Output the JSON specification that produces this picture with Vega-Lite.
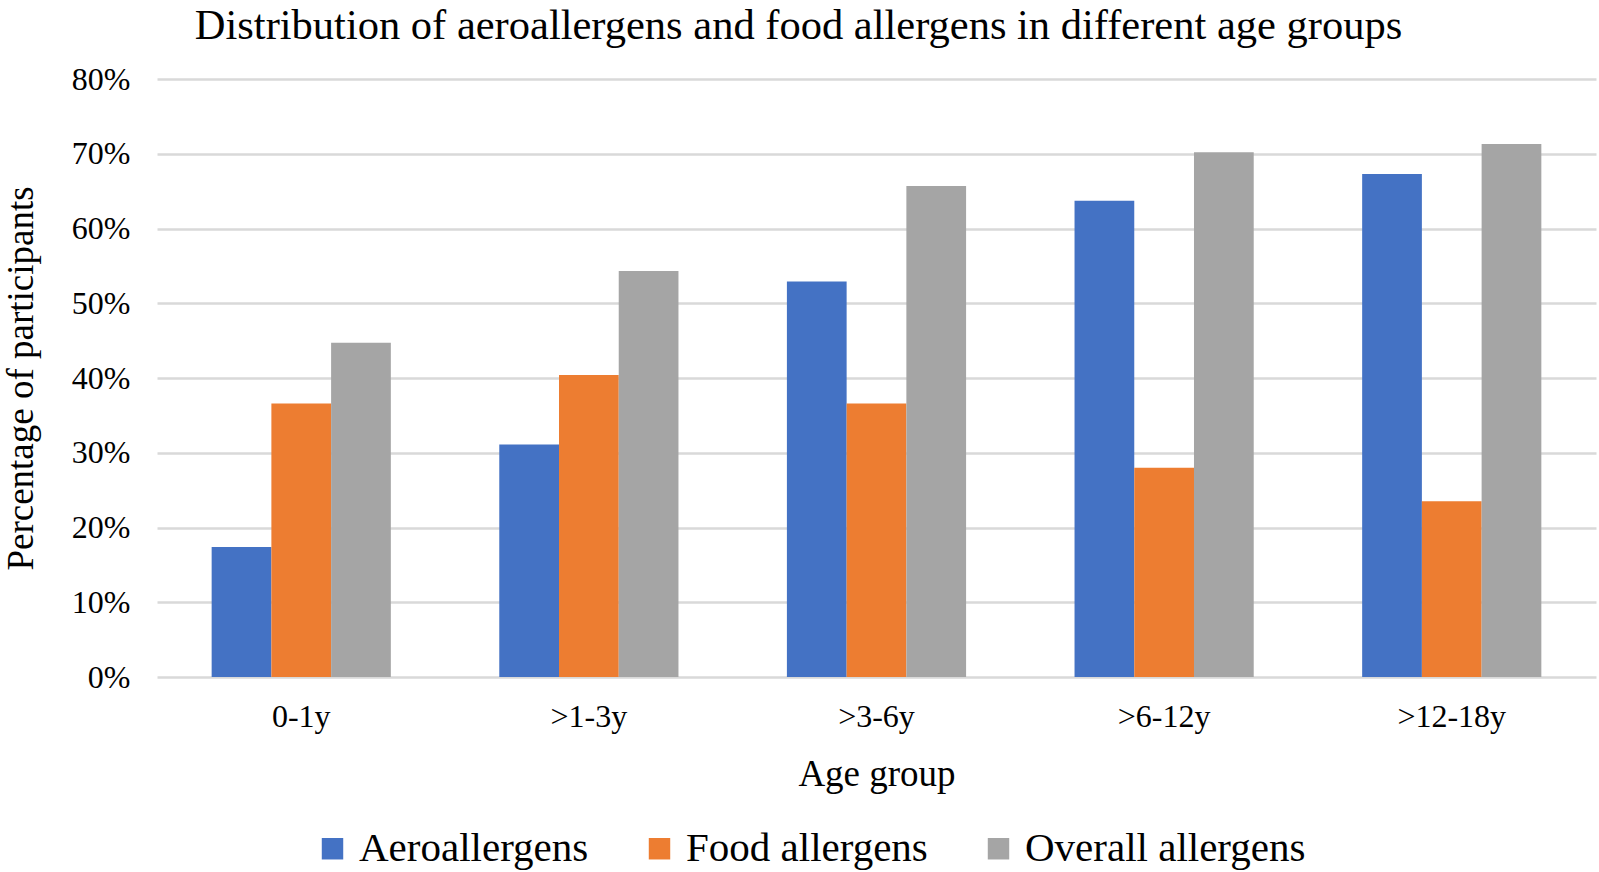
{
  "$schema": "https://vega.github.io/schema/vega-lite/v6.json",
  "width": 1439,
  "height": 598,
  "autosize": {"type": "none"},
  "padding": {"left": 157, "top": 79, "right": 3, "bottom": 195},
  "background": "white",
  "config": {
    "font": "Liberation Serif",
    "view": {"stroke": null}
  },
  "title": {
    "text": "Distribution of aeroallergens and food allergens in different age groups",
    "font": "Liberation Serif",
    "fontSize": 42.5,
    "fontWeight": "normal",
    "color": "#000000",
    "anchor": "middle",
    "frame": "group",
    "dx": -78,
    "offset": 16
  },
  "data": {
    "values": [
      {"age": "0-1y", "type": "Aeroallergens", "pct": 17.4},
      {"age": "0-1y", "type": "Food allergens", "pct": 36.6},
      {"age": "0-1y", "type": "Overall allergens", "pct": 44.7},
      {"age": ">1-3y", "type": "Aeroallergens", "pct": 31.1},
      {"age": ">1-3y", "type": "Food allergens", "pct": 40.4},
      {"age": ">1-3y", "type": "Overall allergens", "pct": 54.3},
      {"age": ">3-6y", "type": "Aeroallergens", "pct": 52.9},
      {"age": ">3-6y", "type": "Food allergens", "pct": 36.6},
      {"age": ">3-6y", "type": "Overall allergens", "pct": 65.7},
      {"age": ">6-12y", "type": "Aeroallergens", "pct": 63.7},
      {"age": ">6-12y", "type": "Food allergens", "pct": 28.0},
      {"age": ">6-12y", "type": "Overall allergens", "pct": 70.2},
      {"age": ">12-18y", "type": "Aeroallergens", "pct": 67.3},
      {"age": ">12-18y", "type": "Food allergens", "pct": 23.5},
      {"age": ">12-18y", "type": "Overall allergens", "pct": 71.3}
    ]
  },
  "mark": {"type": "bar"},
  "encoding": {
    "x": {
      "field": "age",
      "type": "nominal",
      "sort": null,
      "scale": {"paddingInner": 0.377, "paddingOuter": 0.19},
      "axis": {
        "title": "Age group",
        "titleFont": "Liberation Serif",
        "titleFontSize": 37,
        "titleFontWeight": "normal",
        "titleColor": "#000000",
        "titlePadding": 24,
        "labelFont": "Liberation Serif",
        "labelFontSize": 32,
        "labelColor": "#000000",
        "labelAngle": 0,
        "labelPadding": 24,
        "ticks": false,
        "domain": false,
        "grid": false
      }
    },
    "xOffset": {
      "field": "type",
      "type": "nominal",
      "scale": {"paddingInner": 0, "paddingOuter": 0}
    },
    "y": {
      "field": "pct",
      "type": "quantitative",
      "scale": {"domain": [0, 80], "nice": false},
      "axis": {
        "title": "Percentage of participants",
        "titleFont": "Liberation Serif",
        "titleFontSize": 37,
        "titleFontWeight": "normal",
        "titleColor": "#000000",
        "titlePadding": 31,
        "labelFont": "Liberation Serif",
        "labelFontSize": 32,
        "labelColor": "#000000",
        "labelPadding": 27,
        "labelExpr": "datum.value + '%'",
        "values": [0, 10, 20, 30, 40, 50, 60, 70, 80],
        "ticks": false,
        "domain": false,
        "grid": true,
        "gridColor": "#D9D9D9",
        "gridWidth": 2.5
      }
    },
    "color": {
      "field": "type",
      "type": "nominal",
      "scale": {
        "domain": ["Aeroallergens", "Food allergens", "Overall allergens"],
        "range": ["#4472C4", "#ED7D31", "#A5A5A5"]
      },
      "legend": {
        "title": null,
        "orient": "none",
        "direction": "horizontal",
        "columns": 3,
        "legendX": 155,
        "legendY": 749,
        "symbolType": "square",
        "symbolSize": 460,
        "symbolStrokeWidth": 0,
        "labelFont": "Liberation Serif",
        "labelFontSize": 41,
        "labelColor": "#000000",
        "labelOffset": 6,
        "labelLimit": 0,
        "columnPadding": 50
      }
    }
  }
}
